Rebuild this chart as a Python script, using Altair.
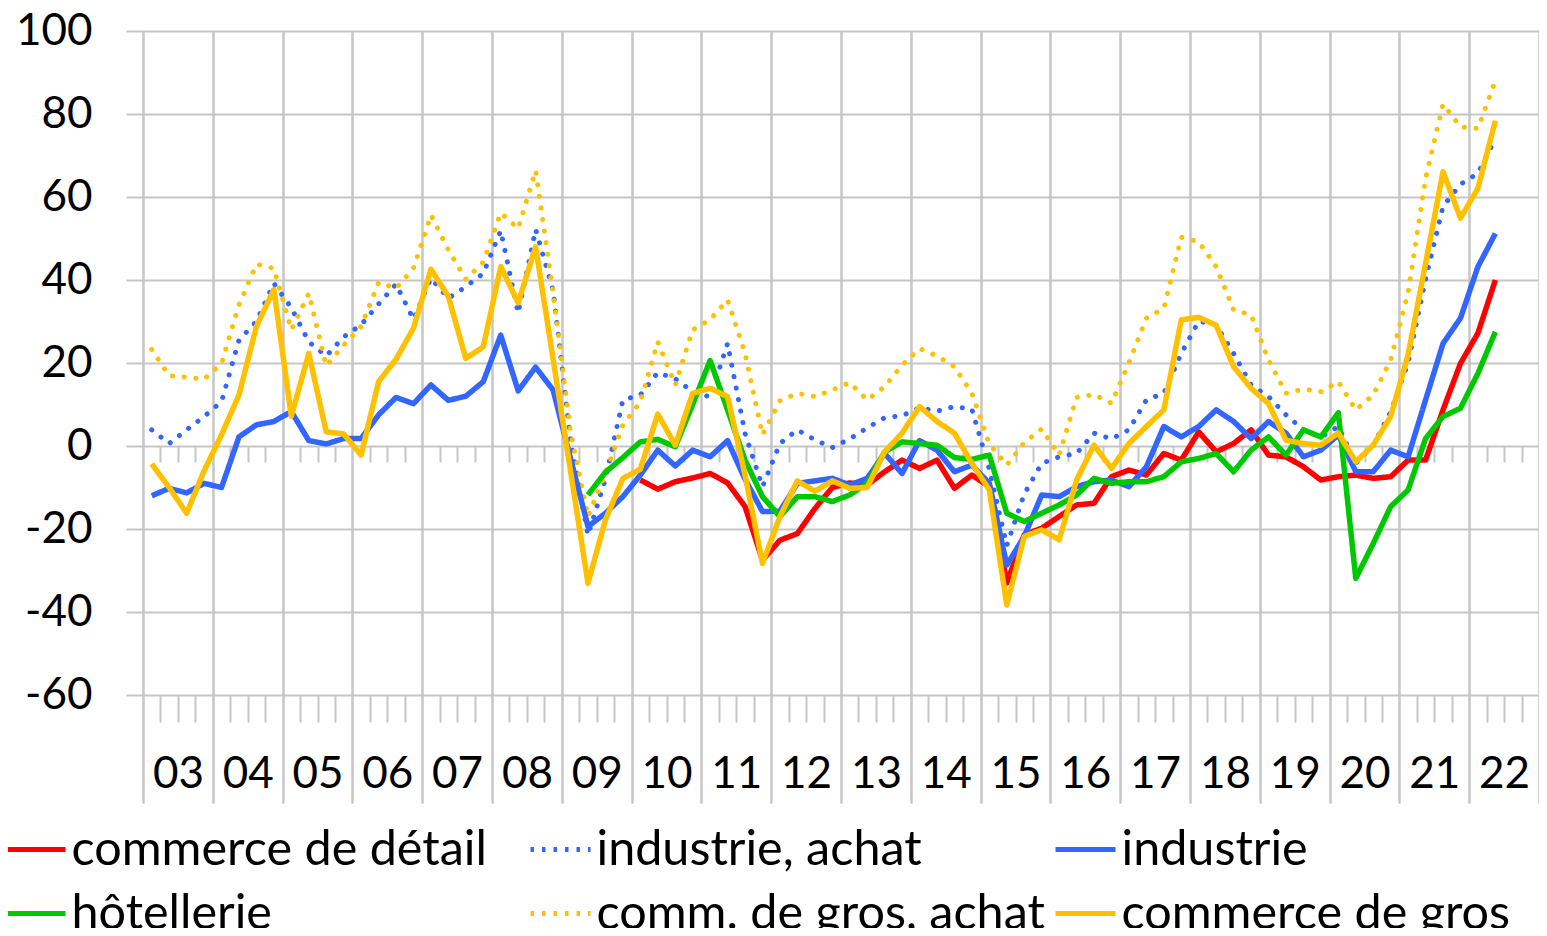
import altair as alt
import pandas as pd

# ---------------- data (quarterly, 2003Q1 .. 2022Q2) ----------------
YEAR_LABELS = ["03", "04", "05", "06", "07", "08", "09", "10", "11", "12",
               "13", "14", "15", "16", "17", "18", "19", "20", "21", "22"]

SERIES = ["commerce de détail", "industrie, achat", "industrie",
          "hôtellerie", "comm. de gros, achat", "commerce de gros"]
COLORS = ["#FF0000", "#3366FF", "#3366FF", "#00C800", "#FFC000", "#FFC000"]
DASHES = [[1, 0], [3.5, 8], [1, 0], [1, 0], [3.5, 8], [1, 0]]
DOTTED = [SERIES[1], SERIES[4]]
# legend is filled column by column (2 rows x 3 columns)
LEGEND_ORDER = [0, 3, 1, 4, 2, 5]

# commerce de détail starts 2010Q1 (quarter index 28)
RETAIL_START = 28
retail = [-8.2, -10.4, -8.6, -7.7, -6.6, -8.9, -14.6, -27.5, -22.7, -21.1,
          -15.1, -10, -8.9, -9.4, -6.2, -3.4, -5.4, -3.4, -10.2, -7,
          -9.8, -33, -21.4, -19.8, -17, -14.2, -13.8, -7.4, -5.8, -7,
          -1.8, -3.4, 3.4, -1.4, 0.6, 3.9, -2.2, -2.6, -5, -8.2,
          -7.4, -7, -7.8, -7.4, -3.4, -3.4, 8.7, 19.9, 27.2, 40]

industry_purchase = [3.9, 0.6, 3.9, 7.1, 10.7, 25.5, 30, 39.2, 33.3, 25.1,
                     21.7, 26.3, 29.2, 34.2, 39, 30.5, 40.4, 35.6, 38.4, 41.6,
                     51.9, 32, 52.2, 37.5, 1.5, -21.5, -8, 11.1, 12.3, 17.7,
                     16.2, 13.1, 11.8, 24.7, 3, -9.8, 0.6, 3.9, 1.5, -0.4,
                     1.7, 4.4, 6.8, 7.3, 9.2, 8.4, 9.5, 8.9, -5.6, -24,
                     -11.6, -4.2, -2.6, -1.8, 3.1, 1.7, 3.9, 11.1, 12.7, 22.3,
                     30.1, 29.1, 22.3, 14.7, 11.9, 7.5, 3.9, 2.1, 4.7, -4.2,
                     0.2, 8.2, 20, 40.2, 57.7, 63.1, 65.7, 74.1]

industry = [-12, -10.2, -11.3, -9, -10, 2.2, 5.1, 5.9, 8.3, 1.3,
            0.5, 1.8, 1.8, 7.5, 11.7, 10.2, 14.7, 11, 12, 15.5,
            26.7, 13.3, 19, 13.5, -3, -19.4, -16.2, -12.2, -7, -1,
            -4.8, -1, -2.6, 1.3, -8, -15.8, -15.7, -9, -8.4, -7.8,
            -9.4, -7.8, -1.8, -6.6, 1.3, -1, -6.2, -4.6, -9, -28.7,
            -21.8, -11.8, -12.2, -9.8, -8.6, -8.2, -9.8, -5, 4.7, 2.2,
            4.7, 8.7, 5.9, 1.8, 5.9, 3.1, -2.6, -1, 2.7, -6.2,
            -6.2, -1, -2.6, 11.1, 24.7, 30.8, 43.2, 51.2]

# hôtellerie starts 2009Q2 (quarter index 25)
HOTEL_START = 25
hotel = [-11.8, -6.3, -2.8, 1, 1.6, -0.2, 10, 20.6, 8.7, -3.4,
         -12.2, -17, -12.2, -12.2, -13.4, -11.8, -9, -1.4, 1, 0.6,
         0.2, -2.8, -3.2, -2.2, -16.2, -18.2, -16.2, -14.2, -11.8, -7.8,
         -9, -8.6, -8.6, -7.4, -3.8, -3, -1.8, -6.2, -1, 2.2,
         -2.2, 3.9, 2.2, 8, -31.9, -23.5, -14.6, -10.6, 1.8, 7.1,
         9.1, 17.5, 27.5]

wholesale_purchase = [23.3, 16.9, 16.6, 16.1, 19.9, 34, 43.8, 42.8, 28, 36.8,
                      19.3, 24.3, 28.8, 39.4, 38, 42.8, 55.7, 47.2, 40.2, 44.3,
                      56.2, 52.4, 66.4, 37, 3.5, -17, -6.6, 5.1, 10.6, 25.1,
                      14.7, 28, 30.4, 35.2, 22.3, 2.7, 10.9, 12.7, 11.9, 13.5,
                      15.3, 11.1, 14.3, 19.5, 23.5, 21.7, 19.1, 12.7, 0.5, -4.6,
                      0.8, 4.1, -2.2, 11.7, 12.4, 10.3, 20.1, 30.8, 33.2, 50.3,
                      49.2, 43.2, 32.8, 31.6, 20.7, 12.7, 13.7, 13.1, 15.5, 8.7,
                      12.3, 20.7, 37, 64.5, 82.4, 76.9, 76.5, 88]

wholesale = [-4.3, -10, -16.2, -6, 2.7, 12.3, 28.8, 37.7, 7.2, 22.3,
             3.4, 2.9, -2.2, 15.5, 20.9, 28.4, 42.6, 36, 21.1, 23.9,
             43.2, 34.5, 48, 21, -6, -33.1, -17.8, -7.8, -5.6, 7.7,
             0.2, 12.7, 13.9, 11.9, -7, -28.3, -17, -8.4, -10.9, -8.4,
             -10.2, -10, -1.4, 3.1, 9.5, 5.9, 3.1, -4.2, -10.6, -38.3,
             -21.8, -20.2, -22.6, -8.2, 0.2, -5.4, 0.6, 4.7, 8.7, 30.4,
             31, 29.1, 19.1, 13.9, 10.2, 1.4, 0.6, 0.2, 3.1, -3.8,
             0.2, 7.1, 22, 44, 66.1, 54.9, 62.1, 78.4]

N_QUARTERS = 4 * len(YEAR_LABELS)

# ---------------- table (rows in drawing order) ----------------
series_values = [
    (SERIES[0], RETAIL_START, retail),
    (SERIES[1], 0, industry_purchase),
    (SERIES[2], 0, industry),
    (SERIES[3], HOTEL_START, hotel),
    (SERIES[4], 0, wholesale_purchase),
    (SERIES[5], 0, wholesale),
]
rows = []
for name, start, vals in series_values:
    for k, v in enumerate(vals):
        rows.append({"s": name, "q": start + k + 0.5, "v": v})
df = pd.DataFrame(rows)

leg_domain = [SERIES[i] for i in LEGEND_ORDER]
leg_colors = [COLORS[i] for i in LEGEND_ORDER]
leg_dashes = [DASHES[i] for i in LEGEND_ORDER]

FONT = "Lato"
GRID = "#C6C6C6"
LINE_W = 5.5

xscale = alt.Scale(domain=[0, N_QUARTERS], nice=False, zero=False)
yscale = alt.Scale(domain=[-60, 100], nice=False, zero=False)
color_scale = alt.Scale(domain=leg_domain, range=leg_colors)
year_bounds = list(range(0, N_QUARTERS + 1, 4))
quarter_bounds = [q for q in range(1, N_QUARTERS) if q % 4 != 0]
year_mids = [q + 2 for q in range(0, N_QUARTERS, 4)]
label_expr = "[" + ",".join("'%s'" % y for y in YEAR_LABELS) + "][floor(datum.value / 4)]"
dotted_test = "indexof([" + ",".join("'%s'" % s for s in DOTTED) + "], datum.s) >= 0"

legend = alt.Legend(
    title=None, orient="none", legendX=-140, legendY=786,
    columns=3, gridAlign="all", columnPadding=0, rowPadding=7, padding=0,
    symbolType="stroke", symbolSize=3600, symbolStrokeWidth=5,
    labelFont=FONT, labelFontSize=48.5, labelColor="#000000", labelLimit=1000,
    labelOffset=3.5,
)

x_main_axis = alt.Axis(orient="bottom", values=year_bounds, grid=True, gridColor=GRID,
                       gridWidth=2, ticks=True, tickSize=108, tickColor=GRID, tickWidth=2,
                       labels=False, domain=False, zindex=0)
y_axis = alt.Axis(orient="left", values=list(range(-60, 101, 20)), grid=True,
                  gridColor=GRID, gridWidth=2, ticks=True, tickSize=17,
                  tickColor=GRID, tickWidth=2, domain=False, labelFont=FONT,
                  labelFontSize=44, labelColor="#000000", labelPadding=34,
                  labelExpr="datum.value + ''", zindex=0)

base = alt.Chart(df)

# dotted series drawn with round dots (underneath the solid lines)
dotted = base.transform_filter(dotted_test).mark_line(
    strokeWidth=5, strokeCap="round", strokeJoin="round", strokeDash=[0.1, 11.6]
).encode(
    x=alt.X("q:Q", scale=xscale, title=None, axis=x_main_axis),
    y=alt.Y("v:Q", scale=yscale, title=None, axis=y_axis),
    color=alt.Color("s:N", scale=color_scale, legend=legend),
)

# all series (dotted ones invisible here; this layer carries the legend)
lines = base.mark_line(strokeWidth=LINE_W, strokeCap="butt", strokeJoin="round").encode(
    x=alt.X("q:Q", scale=xscale, title=None, axis=x_main_axis),
    y=alt.Y("v:Q", scale=yscale, title=None, axis=y_axis),
    color=alt.Color("s:N", scale=color_scale, legend=legend),
    strokeDash=alt.StrokeDash("s:N", scale=alt.Scale(domain=leg_domain, range=leg_dashes),
                              legend=legend),
    strokeOpacity=alt.condition(dotted_test, alt.value(0), alt.value(1)),
)

def ghost(axis):
    return base.mark_point(opacity=0, size=1).encode(
        x=alt.X("q:Q", scale=xscale, title=None, axis=axis),
    )

minor_bottom = ghost(alt.Axis(orient="bottom", values=quarter_bounds, grid=False, ticks=True,
                              tickSize=27, tickColor=GRID, tickWidth=2, labels=False,
                              domain=False, zindex=0))
minor_zero = ghost(alt.Axis(orient="bottom", values=quarter_bounds, grid=False, ticks=True,
                            tickSize=16, tickColor=GRID, tickWidth=2, labels=False,
                            domain=False, offset=-249, zindex=0))
year_axis = ghost(alt.Axis(orient="bottom", values=year_mids, grid=False, ticks=False,
                           domain=False, labelFont=FONT, labelFontSize=44,
                           labelColor="#000000", labelBaseline="alphabetic",
                           labelPadding=92, labelExpr=label_expr, labelAlign="center",
                           zindex=0))

chart = alt.layer(minor_bottom, minor_zero, year_axis, dotted, lines).resolve_axis(
    x="independent"
).properties(
    width=1396, height=664,
    autosize=alt.AutoSizeParams(type="none"),
    padding={"left": 135, "top": 23, "right": 0, "bottom": 233},
).configure_view(stroke=None).configure(background="white")

chart.save("out.html", embed_options={"renderer": "svg", "actions": False})
